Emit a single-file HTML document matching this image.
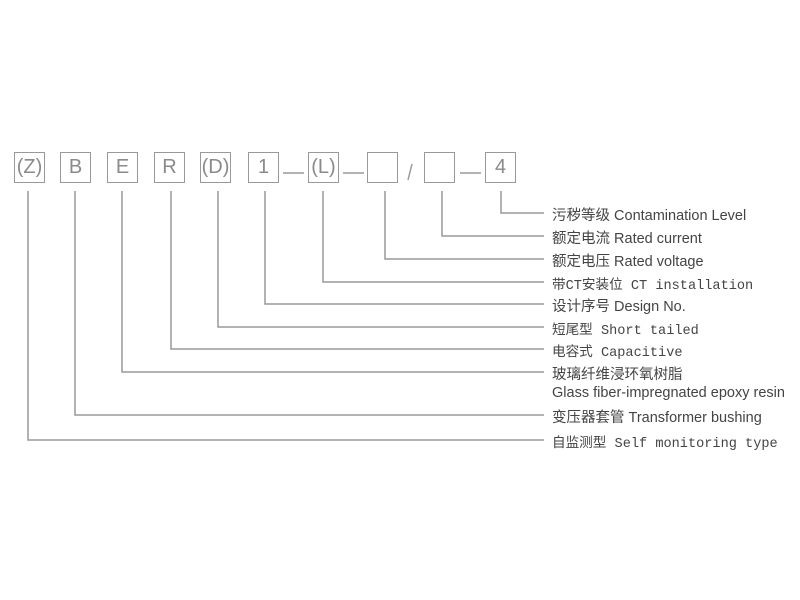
<!DOCTYPE html>
<html><head><meta charset="utf-8"><style>
body{margin:0;width:800px;height:600px;background:#fff;position:relative;overflow:hidden;font-family:"Liberation Sans","Noto Sans CJK SC",sans-serif}
.b{position:absolute;top:152px;width:29px;height:29px;border:1.5px solid #999;color:#8a8a8a;font-size:20px;line-height:29px;text-align:center}
.t{position:absolute;left:552px;font-size:14.5px;color:#444;white-space:nowrap}
.m{font-family:"Liberation Mono","Noto Sans CJK SC",monospace;font-size:13.6px}
</style></head><body>
<div class="b" style="left:14px">(Z)</div>
<div class="b" style="left:60px">B</div>
<div class="b" style="left:107px">E</div>
<div class="b" style="left:154px">R</div>
<div class="b" style="left:200px">(D)</div>
<div class="b" style="left:248px">1</div>
<div class="b" style="left:308px">(L)</div>
<div class="b" style="left:367px"></div>
<div class="b" style="left:424px"></div>
<div class="b" style="left:485px">4</div>
<svg width="800" height="600" style="position:absolute;left:0;top:0" stroke="#999" stroke-width="1.5" fill="none">
<line x1="283" y1="173" x2="304" y2="173"/>
<line x1="343" y1="173" x2="364" y2="173"/>
<line x1="412" y1="164" x2="408" y2="180"/>
<line x1="460" y1="173" x2="481" y2="173"/>
<polyline points="501,191 501,213 544,213"/>
<polyline points="442,191 442,236 544,236"/>
<polyline points="385,191 385,259 544,259"/>
<polyline points="323,191 323,282 544,282"/>
<polyline points="265,191 265,304 544,304"/>
<polyline points="218,191 218,327 544,327"/>
<polyline points="171,191 171,349 544,349"/>
<polyline points="122,191 122,372 544,372"/>
<polyline points="75,191 75,415 544,415"/>
<polyline points="28,191 28,440 544,440"/>
</svg>
<div class="t" style="top:204px">污秽等级 Contamination Level</div>
<div class="t" style="top:227px">额定电流 Rated current</div>
<div class="t" style="top:250px">额定电压 Rated voltage</div>
<div class="t m" style="top:273px">带CT安装位 CT installation</div>
<div class="t" style="top:295px">设计序号 Design No.</div>
<div class="t m" style="top:318px">短尾型 Short tailed</div>
<div class="t m" style="top:340px">电容式 Capacitive</div>
<div class="t" style="top:363px">玻璃纤维浸环氧树脂</div>
<div class="t" style="top:385px">Glass fiber-impregnated epoxy resin</div>
<div class="t" style="top:406px">变压器套管 Transformer bushing</div>
<div class="t m" style="top:431px">自监测型 Self monitoring type</div>
</body></html>
